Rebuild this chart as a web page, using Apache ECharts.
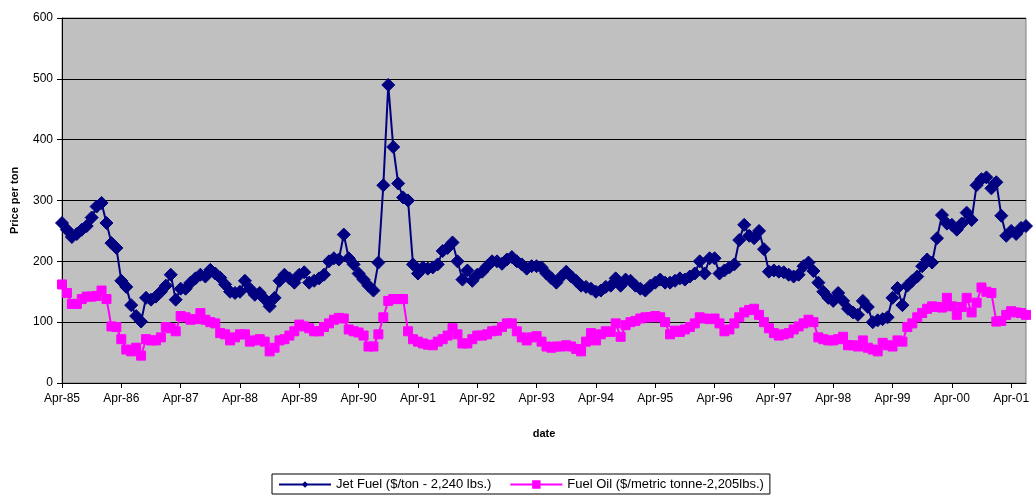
<!DOCTYPE html>
<html>
<head>
<meta charset="utf-8">
<script src="https://cdn.jsdelivr.net/npm/echarts@6/dist/echarts.min.js"></script>
<style>
  html, body { margin: 0; padding: 0; background: #fff; }
  #chart { width: 1035px; height: 497px; }
</style>
</head>
<body>
<div id="chart"></div>
<script>
// monthly series, Apr-85 .. Jul-01
const monthNames = ['Jan', 'Feb', 'Mar', 'Apr', 'May', 'Jun', 'Jul', 'Aug', 'Sep', 'Oct', 'Nov', 'Dec']
const startYear = 1985
const startMonth = 3 // Apr

const jetFuel = [
  263, 252, 240, 245, 252, 258, 272, 290, 296, 263, 230, 222,
  168, 158, 128, 110, 101, 140, 137, 142, 150, 160, 178, 137,
  155, 155, 165, 172, 178, 175, 186, 180, 173, 162, 150, 148,
  150, 168, 155, 145, 148, 138, 126, 140, 168, 178, 172, 165,
  178, 182, 165, 168, 172, 178, 200, 205, 203, 244, 205, 195,
  180, 170, 160, 152, 198, 325, 490, 388, 328, 305, 300, 195,
  180, 190, 188, 190, 195, 217, 222, 231, 200, 170, 185, 168,
  178, 183, 192, 200, 200, 196, 203, 207, 200, 195, 188, 192,
  192, 190, 180, 172, 165, 175, 183, 175, 168, 160, 158, 155,
  150, 152, 158, 160, 172, 160, 170, 168, 160, 155, 152, 160,
  165, 170, 165, 165, 168, 172, 170, 175, 180, 200, 180, 205,
  205, 180, 185, 190, 195, 235, 260, 242, 238, 250, 220, 183,
  185, 183, 182, 178, 175, 178, 192, 198, 184, 165, 150, 140,
  135, 148, 135, 122, 116, 112, 135, 125, 100, 103, 105, 108,
  140, 156, 128, 160, 168, 175, 192, 203, 198, 238, 276, 262,
  260, 252, 262, 280, 268, 325, 335, 338, 320, 330, 275, 242,
  250, 245, 255, 258
]

const fuelOil = [
  162, 148, 130, 130, 138, 142, 142, 143, 152, 138, 93, 92,
  72, 55, 52, 58, 45, 72, 70, 70, 75, 92, 90, 85,
  110, 108, 104, 105, 115, 104, 100, 98, 82, 80, 70, 75,
  80, 80, 68, 70, 72, 68, 52, 58, 70, 72, 78, 85,
  96, 93, 90, 85, 85, 92, 98, 104, 107, 106, 88, 85,
  83, 78, 60, 60, 80, 108, 135, 138, 138, 138, 85, 72,
  68, 65, 63, 62, 68, 72, 78, 90, 80, 65, 65, 72,
  78, 78, 80, 85, 86, 92, 98, 98, 85, 75, 70, 75,
  77, 68, 60, 58, 60, 60, 62, 60, 56, 52, 68, 82,
  70, 80, 85, 84, 98, 76, 95, 100, 102, 106, 108, 108,
  110, 108, 100, 80, 86, 84, 88, 92, 98, 108, 106, 105,
  106, 98, 85, 88, 98, 108, 116, 120, 122, 112, 100, 90,
  82, 78, 80, 82, 88, 93, 98, 104, 100, 75, 72, 70,
  70, 72, 76, 62, 62, 60, 70, 58, 55, 52, 66, 62,
  60, 70, 68, 92, 98, 108, 115, 122, 126, 125, 124, 140,
  126, 112, 125, 140, 116, 132, 157, 150, 148, 101, 102, 112,
  118, 116, 115, 112
]

function buildCategories(n) {
  const out = []
  for (let i = 0; i < n; i++) {
    const m = (startMonth + i) % 12
    const y = startYear + Math.floor((startMonth + i) / 12)
    out.push(monthNames[m] + '-' + String(y).slice(2))
  }
  return out
}

const categories = buildCategories(jetFuel.length)

const chart = echarts.init(document.getElementById('chart'))

const option = {
  animation: false,
  textStyle: { fontFamily: 'Arial, "Liberation Sans", sans-serif', color: '#000' },
  grid: {
    left: 62,
    right: 9,
    top: 18,
    bottom: 114,
    show: true,
    backgroundColor: '#C0C0C0',
    borderColor: '#808080',
    borderWidth: 1
  },
  legend: {
    left: 272,
    top: 474,
    itemWidth: 52,
    itemHeight: 8,
    itemGap: 18,
    padding: [4, 6, 3, 6],
    borderColor: '#000',
    borderWidth: 1,
    textStyle: { fontSize: 13, color: '#000', fontFamily: 'Arial, "Liberation Sans", sans-serif' },
    data: ['Jet Fuel ($/ton - 2,240 lbs.)', 'Fuel Oil ($/metric tonne-2,205lbs.)']
  },
  xAxis: {
    type: 'category',
    boundaryGap: false,
    data: categories,
    name: 'date',
    nameLocation: 'middle',
    nameGap: 45,
    nameTextStyle: { fontWeight: 'bold', fontSize: 11, color: '#000' },
    axisLine: { lineStyle: { color: '#000', width: 1 } },
    axisTick: { interval: 11, length: 5, lineStyle: { color: '#000' } },
    axisLabel: { interval: 11, fontSize: 12, color: '#000', margin: 10 },
    splitLine: { show: false }
  },
  yAxis: {
    type: 'value',
    min: 0,
    max: 600,
    interval: 100,
    name: 'Price per ton',
    nameLocation: 'middle',
    nameGap: 42,
    nameTextStyle: { fontWeight: 'bold', fontSize: 11, color: '#000' },
    axisLine: { show: true, lineStyle: { color: '#000', width: 1 } },
    axisTick: { show: true, length: 5, lineStyle: { color: '#000' } },
    axisLabel: { fontSize: 12, color: '#000', margin: 9 },
    splitLine: { lineStyle: { color: '#000', width: 1 } }
  },
  series: [
    {
      name: 'Jet Fuel ($/ton - 2,240 lbs.)',
      type: 'line',
      data: jetFuel,
      symbol: 'diamond',
      symbolSize: 13,
      showAllSymbol: true,
      lineStyle: { color: '#000080', width: 2 },
      itemStyle: { color: '#000080', borderColor: '#000080' },
      z: 3
    },
    {
      name: 'Fuel Oil ($/metric tonne-2,205lbs.)',
      type: 'line',
      data: fuelOil,
      symbol: 'rect',
      symbolSize: 9,
      showAllSymbol: true,
      lineStyle: { color: '#FF00FF', width: 2 },
      itemStyle: { color: '#FF00FF', borderColor: '#FF00FF', borderWidth: 1 },
      z: 2
    }
  ]
}

chart.setOption(option)
</script>
</body>
</html>
